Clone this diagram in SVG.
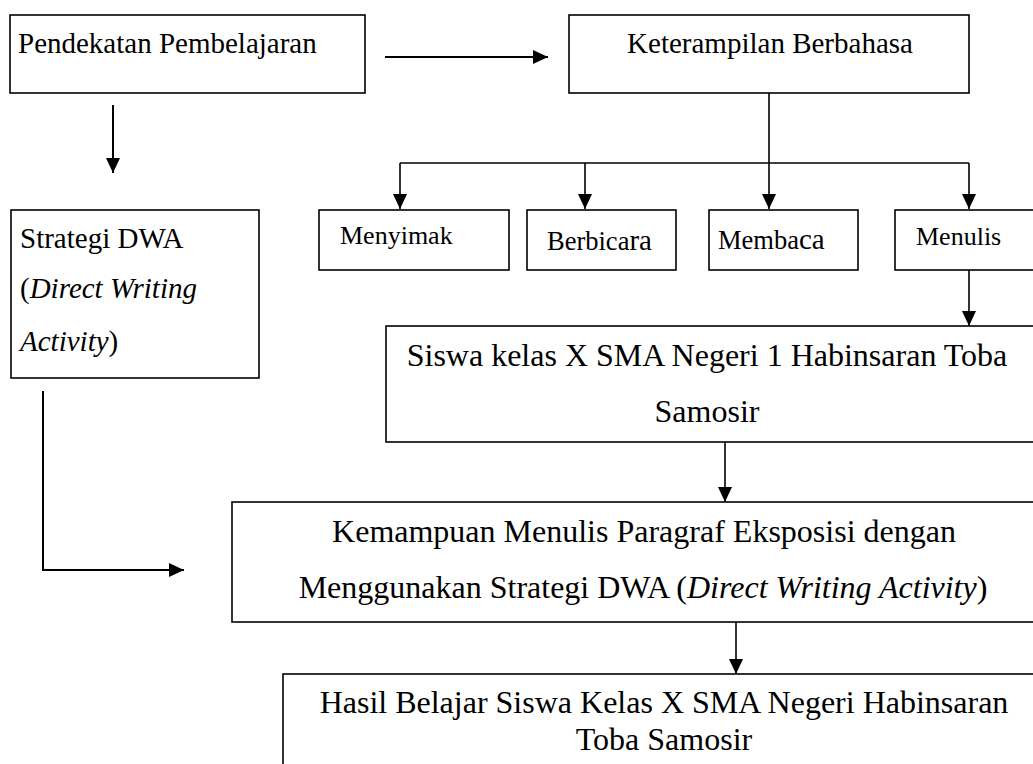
<svg xmlns="http://www.w3.org/2000/svg" width="1033" height="764" viewBox="0 0 1033 764">
<style>
.box{fill:#fff;stroke:#000;stroke-width:1.6}
.t{font-family:'Liberation Serif',Tinos,'Times New Roman',Times,'DejaVu Serif','Noto Serif',serif;fill:#000}
.i{font-style:italic}
.ln{fill:none;stroke:#000;stroke-width:1.6}
.ln2{fill:none;stroke:#000;stroke-width:2}
</style>
<defs>
<marker id="ah" markerUnits="userSpaceOnUse" markerWidth="16" markerHeight="15" refX="15" refY="7" orient="auto">
<path d="M0,0 L15,7 L0,14 z" fill="#000"/>
</marker>
</defs>
<rect width="1033" height="764" fill="#fff"/>
<g id="connectors">
<path class="ln2" d="M385,57 H548" marker-end="url(#ah)"/>
<path class="ln2" d="M113,105 V173" marker-end="url(#ah)"/>
<path class="ln" d="M769,93 V163"/>
<path class="ln" d="M400,163 H969"/>
<path class="ln" d="M400,163 V209" marker-end="url(#ah)"/>
<path class="ln" d="M585,163 V209" marker-end="url(#ah)"/>
<path class="ln" d="M769,163 V209" marker-end="url(#ah)"/>
<path class="ln" d="M969,163 V209" marker-end="url(#ah)"/>
<path class="ln" d="M969,270 V326" marker-end="url(#ah)"/>
<path class="ln2" d="M43,391 V570 H184" marker-end="url(#ah)"/>
<path class="ln" d="M725,442 V502" marker-end="url(#ah)"/>
<path class="ln" d="M736,622 V674" marker-end="url(#ah)"/>
</g>
<g id="n-pendekatan">
<rect class="box" x="10" y="15" width="355" height="78"/>
<text class="t" x="18" y="53" font-size="29" font-family="Liberation Serif, serif">Pendekatan Pembelajaran</text>
</g>
<g id="n-keterampilan">
<rect class="box" x="569" y="15" width="400" height="78"/>
<text class="t" x="770" y="53" font-size="29" text-anchor="middle">Keterampilan Berbahasa</text>
</g>
<g id="n-strategi">
<rect class="box" x="11" y="210" width="248" height="168"/>
<text class="t" x="20" y="248" font-size="29">Strategi DWA</text>
<text class="t" x="20" y="298" font-size="29">(<tspan class="i">Direct Writing</tspan></text>
<text class="t" x="20" y="351" font-size="29"><tspan class="i">Activity</tspan>)</text>
</g>
<g id="n-menyimak">
<rect class="box" x="319" y="210" width="190" height="60"/>
<text class="t" x="340" y="244" font-size="26">Menyimak</text>
</g>
<g id="n-berbicara">
<rect class="box" x="527" y="210" width="149" height="60"/>
<text class="t" x="547" y="250" font-size="26.5">Berbica<tspan font-size="29">ra</tspan></text>
</g>
<g id="n-membaca">
<rect class="box" x="709" y="210" width="149" height="60"/>
<text class="t" x="718" y="249" font-size="26.5">Memba<tspan font-size="29">ca</tspan></text>
</g>
<g id="n-menulis">
<rect class="box" x="895" y="210" width="150" height="60"/>
<text class="t" x="916" y="245" font-size="26">Menulis</text>
</g>
<g id="n-siswa">
<rect class="box" x="386" y="326" width="660" height="116"/>
<text class="t" x="707" y="366" font-size="32" text-anchor="middle">Siswa kelas X SMA Negeri 1 Habinsaran Toba</text>
<text class="t" x="707" y="422" font-size="32" text-anchor="middle">Samosir</text>
</g>
<g id="n-kemampuan">
<rect class="box" x="232" y="502" width="814" height="120"/>
<text class="t" x="644" y="542" font-size="32" text-anchor="middle">Kemampuan Menulis Paragraf Eksposisi dengan</text>
<text class="t" x="643" y="598" font-size="32" text-anchor="middle">Menggunakan Strategi DWA (<tspan class="i">Direct Writing Activity</tspan>)</text>
</g>
<g id="n-hasil">
<rect class="box" x="283" y="674" width="763" height="110"/>
<text class="t" x="664" y="713" font-size="32" text-anchor="middle">Hasil Belajar Siswa Kelas X SMA Negeri Habinsaran</text>
<text class="t" x="664" y="750" font-size="32" text-anchor="middle">Toba Samosir</text>
</g>
</svg>
